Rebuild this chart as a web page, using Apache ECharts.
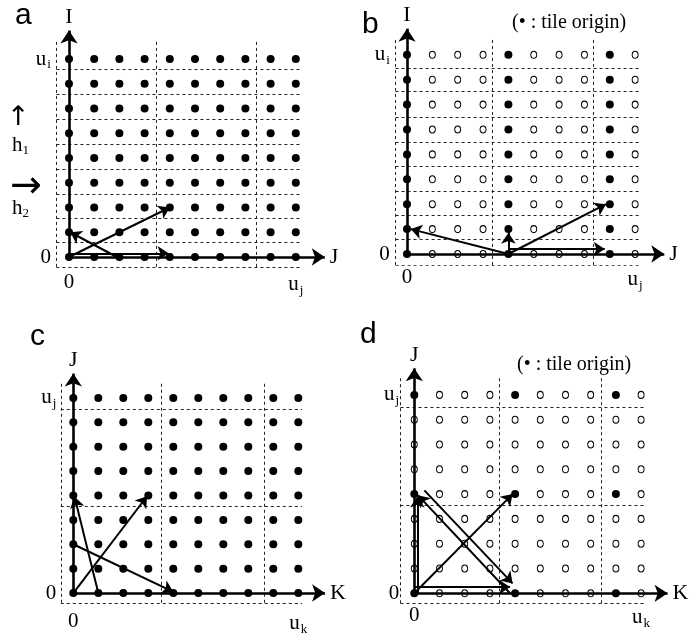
<!DOCTYPE html>
<html>
<head>
<meta charset="utf-8">
<script src="https://cdn.jsdelivr.net/npm/echarts@6/dist/echarts.min.js"></script>
<style>
html, body { margin: 0; padding: 0; background: #fff; }
#chart { width: 692px; height: 636px; }
</style>
</head>
<body>
<div id="chart"></div>
<script>
// lattice points (same for all four panels)
var cols = [0, 1, 2, 3, 4, 5, 6, 7, 8, 9];
var rows = [0, 1, 2, 3, 4, 5, 6, 7, 8];

// tile origins (filled dots) in b and d
var tileColsB = [0, 4, 8];
var tileColsD = [0, 4, 8];
var tileRowsD = [0, 4, 8];

// dashed tile boundaries
var vBoundA = [-0.5, 3.45, 7.45];
var hBoundA = [-0.4, 0.58, 1.56, 2.54, 3.54, 4.55, 5.56, 6.57, 7.6];
var vBoundB = [-0.45, 3.35, 7.35];
var hBoundB = [-0.44, 0.59, 1.57, 2.5, 3.51, 4.47, 5.51, 6.52, 7.46];
var vBoundC = [-0.5, 3.52, 7.62];
var hBoundC = [-0.4, 3.55, 7.55];
var vBoundD = [-0.55, 3.38, 7.4];
var hBoundD = [-0.4, 3.56, 7.5];

// dependence / tiling vectors (start, end)
var vecA = [[[0, 0.15], [3.95, 0.15]], [[0, 0], [4, 2]], [[1.9, 0], [0.05, 1]]];
var vecB = [[[4, 0], [0.15, 1]], [[4, 0], [4, 0.85]], [[4, 0], [7.85, 2]], [[4, 0.2], [7.8, 0.2]]];
var vecC = [[[0, 0], [2.95, 3.97]], [[0, 2], [4, 0.05]], [[1, 0], [0.05, 3.95]]];
var vecD = [[[0.12, 0], [0.12, 3.9]], [[0, 0.25], [3.8, 0.25]], [[0, 0], [3.9, 4]],
            [[3.8, 0], [0.15, 3.95]], [[0.4, 4.15], [3.9, 0.4]]];

var panels = [
    {origin: [69, 257], step: [25.2, 24.75], xmax: 10.15, ymax: 9.15, xName: 'J', yName: 'I', xSub: 'j', ySub: 'i',
     xMargin: 4, yMargin: 3, vb: vBoundA, hb: hBoundA, vec: vecA, filled: function (c, r) { return true; }},
    {origin: [407, 254], step: [25.35, 24.9], xmax: 10.15, ymax: 9.05, xName: 'J', yName: 'I', xSub: 'j', ySub: 'i',
     xMargin: 2, yMargin: 2, vb: vBoundB, hb: hBoundB, vec: vecB, filled: function (c, r) { return tileColsB.indexOf(c) >= 0; }},
    {origin: [73.3, 595], step: [25, 24.6], xmax: 10.07, ymax: 9.0, xName: 'K', yName: 'J', xSub: 'k', ySub: 'j',
     xMargin: 7, yMargin: 2, vb: vBoundC, hb: hBoundC, vec: vecC, filled: function (c, r) { return true; }},
    {origin: [414.3, 593.3], step: [25.2, 24.8], xmax: 10.05, ymax: 9.07, xName: 'K', yName: 'J', xSub: 'k', ySub: 'j',
     xMargin: 1, yMargin: 0, vb: vBoundD, hb: hBoundD, vec: vecD,
     filled: function (c, r) { return tileColsD.indexOf(c) >= 0 && tileRowsD.indexOf(r) >= 0; }}
];

var XMIN = -0.6, YMIN = -0.45, TOPLINE = 8.7, RIGHTLINE = 9.15;
var serif = 'Liberation Serif';

function richLabel() {
    return {
        n: {fontFamily: serif, fontSize: 21, color: '#000'},
        u: {fontFamily: serif, fontSize: 21, color: '#000'},
        s: {fontFamily: serif, fontSize: 13, color: '#000', padding: [12, 0, 0, 1]}
    };
}

var grid = [], xAxis = [], yAxis = [], series = [];

panels.forEach(function (p, i) {
    var sx = p.step[0], sy = p.step[1];
    grid.push({
        left: p.origin[0] + XMIN * sx,
        top: p.origin[1] - p.ymax * sy,
        width: (p.xmax - XMIN) * sx,
        height: (p.ymax - YMIN) * sy
    });
    xAxis.push({
        gridIndex: i, type: 'value', min: XMIN, max: p.xmax,
        axisLine: {show: false, onZero: true}, axisTick: {show: false}, splitLine: {show: false},
        axisLabel: {
            customValues: [0, cols[cols.length - 1]], margin: p.xMargin,
            formatter: function (v) { return v === 0 ? '{n|0}' : '{u|u}{s|' + p.xSub + '}'; },
            rich: richLabel()
        },
        name: p.xName, nameLocation: 'end', nameGap: 5,
        nameTextStyle: {fontFamily: serif, fontSize: 22, color: '#000'}
    });
    yAxis.push({
        gridIndex: i, type: 'value', min: YMIN, max: p.ymax,
        axisLine: {show: false, onZero: true}, axisTick: {show: false}, splitLine: {show: false},
        axisLabel: {
            customValues: [0, rows[rows.length - 1]], margin: p.yMargin,
            formatter: function (v) { return v === 0 ? '{n|0}' : '{u|u}{s|' + p.ySub + '}'; },
            rich: richLabel()
        },
        name: p.yName, nameLocation: 'end', nameGap: 2,
        nameTextStyle: {fontFamily: serif, fontSize: 22, color: '#000'}
    });

    // dashed tile boundaries
    var dashed = [];
    p.vb.forEach(function (x) { dashed.push({coords: [[x, p.hb[0]], [x, TOPLINE]]}); });
    p.hb.forEach(function (y) { dashed.push({coords: [[p.vb[0], y], [RIGHTLINE, y]]}); });
    series.push({
        type: 'lines', coordinateSystem: 'cartesian2d', xAxisIndex: i, yAxisIndex: i,
        data: dashed, symbol: 'none', silent: true, z: 1,
        lineStyle: {color: '#222', width: 1, type: [3, 3], opacity: 1}
    });

    // lattice points
    var full = [], open = [];
    rows.forEach(function (r) {
        cols.forEach(function (c) {
            (p.filled(c, r) ? full : open).push([c, r]);
        });
    });
    series.push({
        type: 'scatter', xAxisIndex: i, yAxisIndex: i, data: open, z: 2, silent: true,
        symbol: 'circle', symbolSize: [6, 7],
        itemStyle: {color: '#fff', borderColor: '#000', borderWidth: 1, opacity: 1}
    });
    series.push({
        type: 'scatter', xAxisIndex: i, yAxisIndex: i, data: full, z: 3, silent: true,
        symbol: 'circle', symbolSize: 8, itemStyle: {color: '#000', opacity: 1}
    });

    // coordinate axes
    series.push({
        type: 'lines', coordinateSystem: 'cartesian2d', xAxisIndex: i, yAxisIndex: i, z: 4, silent: true,
        clip: false, symbol: ['none', 'arrow'], symbolSize: 13,
        data: [{coords: [[0, 0], [p.xmax, 0]]}, {coords: [[0, 0], [0, p.ymax]]}],
        lineStyle: {color: '#000', width: 2.6, opacity: 1}
    });
    // vectors
    series.push({
        type: 'lines', coordinateSystem: 'cartesian2d', xAxisIndex: i, yAxisIndex: i, z: 5, silent: true,
        clip: false, symbol: ['none', 'arrow'], symbolSize: 11,
        data: p.vec.map(function (v) { return {coords: v}; }),
        lineStyle: {color: '#000', width: 2, opacity: 1}
    });
});

var letterStyle = {fontFamily: 'Liberation Sans', fontSize: 30, fontWeight: 'normal', color: '#000'};
var noteStyle = {fontFamily: serif, fontSize: 20, fontWeight: 'normal', color: '#000'};
var hRich = {
    h: {fontFamily: serif, fontSize: 21, fontWeight: 'normal', color: '#000'},
    s: {fontFamily: serif, fontSize: 13, fontWeight: 'normal', color: '#000', padding: [10, 0, 0, 0]}
};
var arrowStyle = {fontFamily: 'DejaVu Sans', fontWeight: 'normal', color: '#000'};

var option = {
    backgroundColor: '#fff',
    animation: false,
    grid: grid,
    xAxis: xAxis,
    yAxis: yAxis,
    title: [
        {text: 'a', left: 15, top: 1, padding: 0, textStyle: letterStyle},
        {text: 'b', left: 362, top: 10, padding: 0, textStyle: letterStyle},
        {text: 'c', left: 30, top: 322, padding: 0, textStyle: letterStyle},
        {text: 'd', left: 360, top: 320, padding: 0, textStyle: letterStyle},
        {text: '(\u2022 : tile origin)', left: 512, top: 13, padding: 0, textStyle: noteStyle},
        {text: '(\u2022 : tile origin)', left: 517, top: 355, padding: 0, textStyle: noteStyle},
        {text: '\u2191', left: 7, top: 104, padding: 0, textStyle: Object.assign({fontSize: 27}, arrowStyle)},
        {text: '{h|h}{s|1}', left: 12, top: 134, padding: 0, textStyle: {rich: hRich}},
        {text: '\u2192', left: 10, top: 168, padding: 0, textStyle: Object.assign({fontSize: 38}, arrowStyle)},
        {text: '{h|h}{s|2}', left: 12, top: 197, padding: 0, textStyle: {rich: hRich}}
    ],
    series: series
};

var chart = echarts.init(document.getElementById('chart'));
chart.setOption(option);
</script>
</body>
</html>
